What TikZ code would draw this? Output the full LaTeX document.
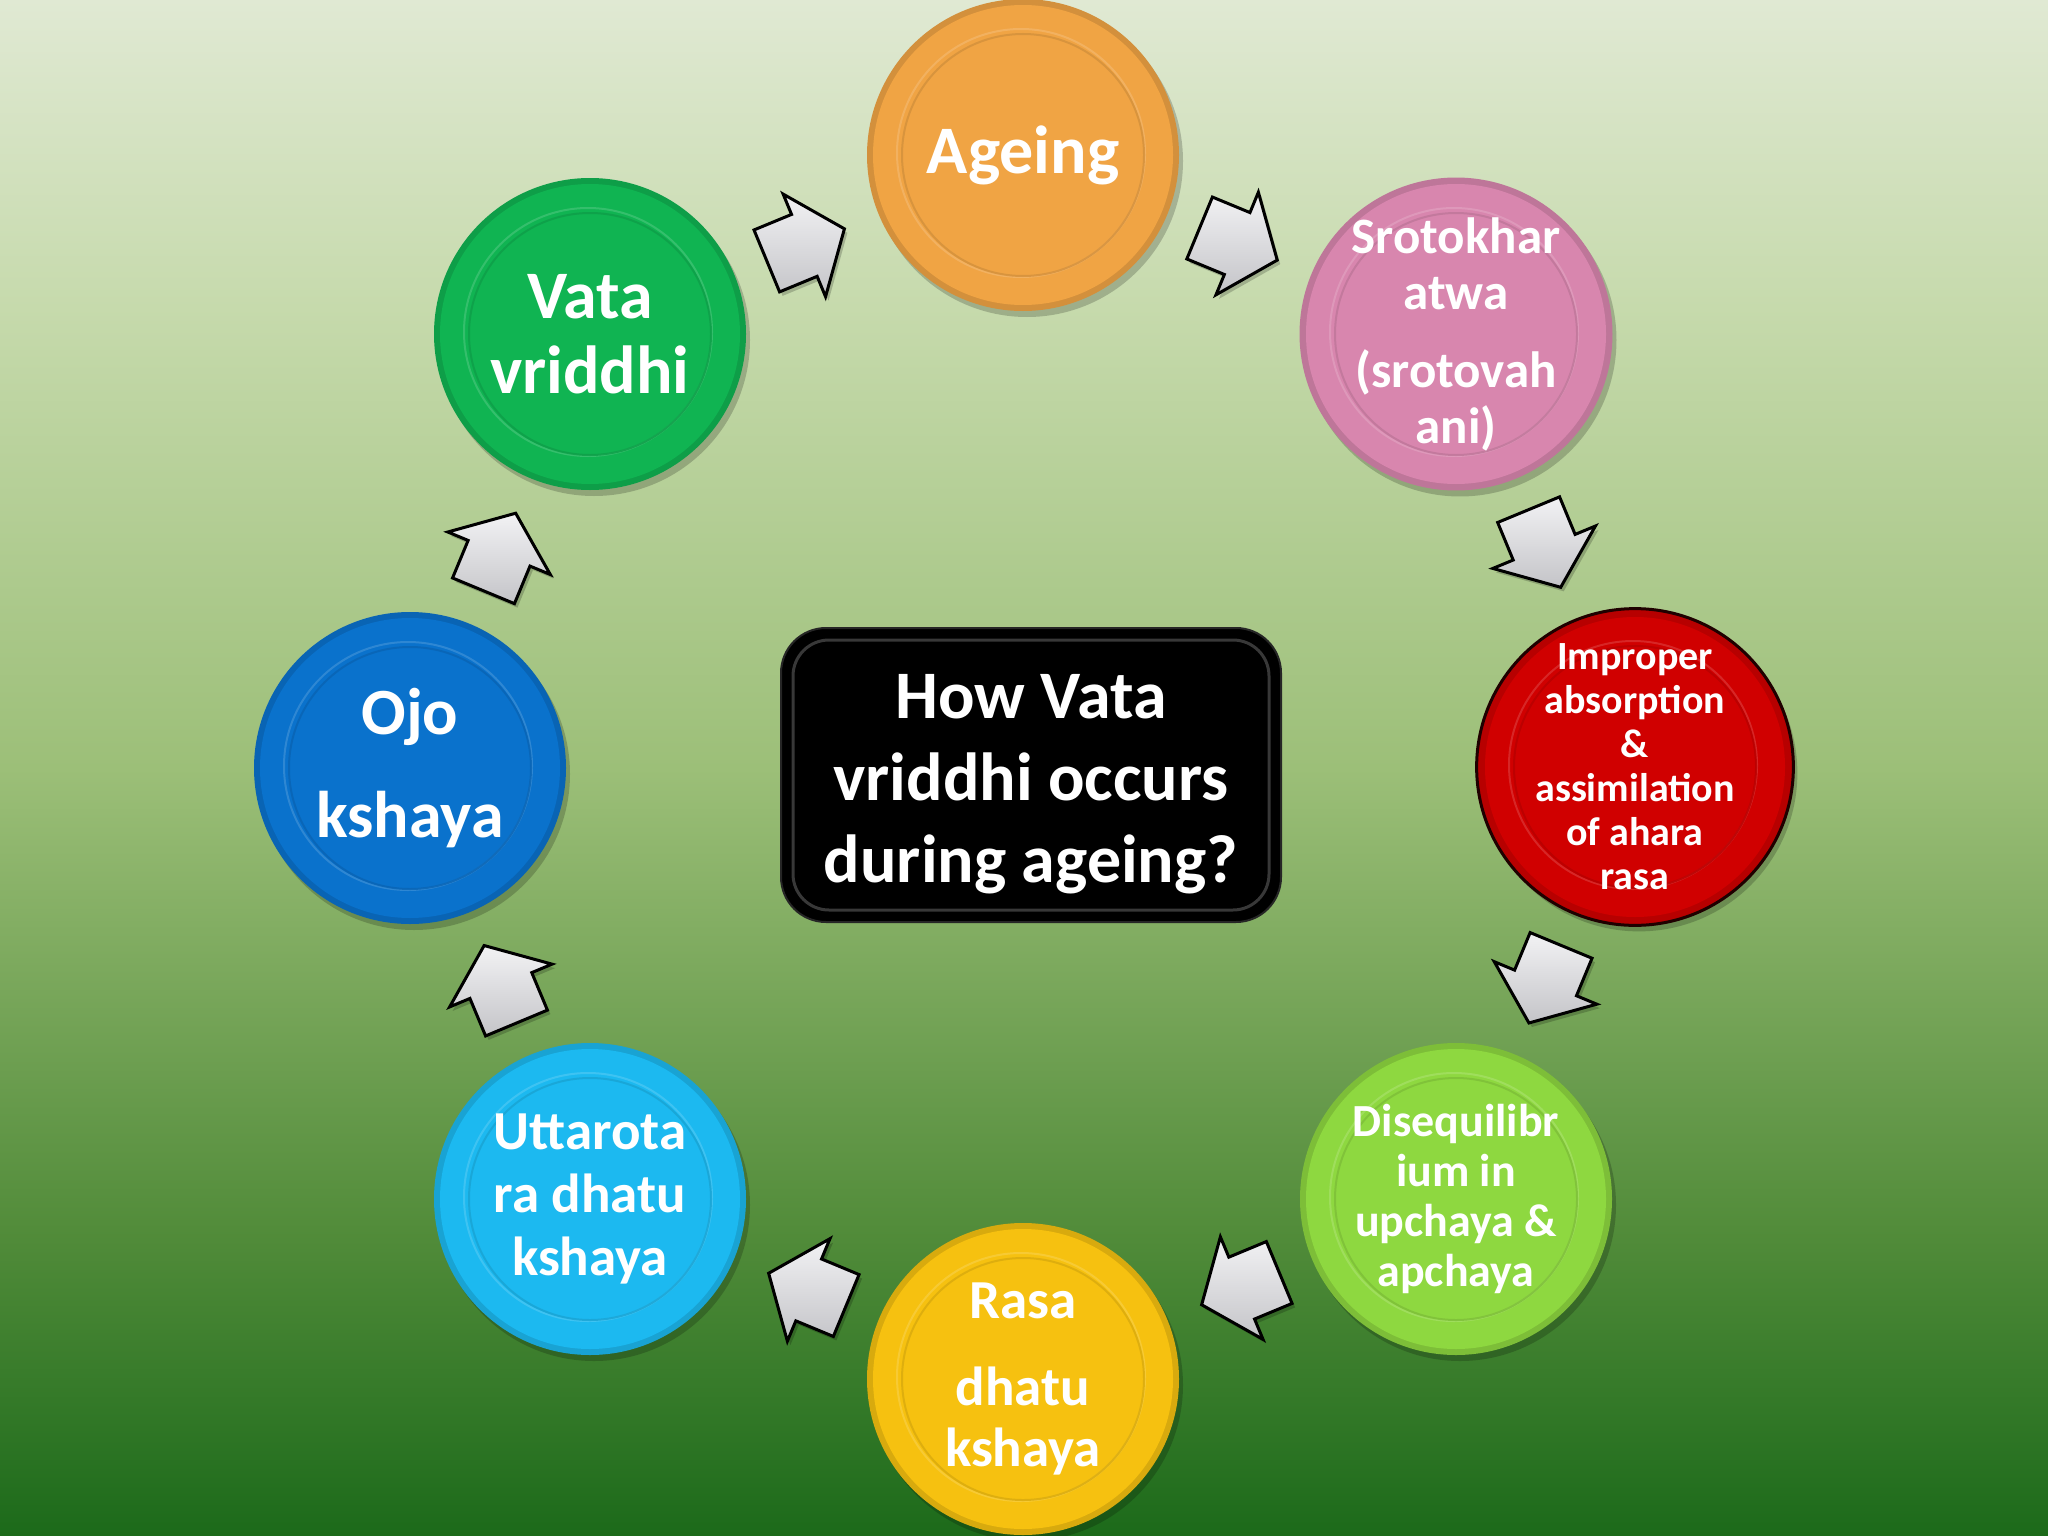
\documentclass[tikz,border=0pt]{standalone}
\usepackage{fontspec}
\setmainfont{Carlito}
\usetikzlibrary{shapes.arrows,calc}
\definecolor{bgA}{HTML}{1C6A1A}
\definecolor{bgB}{HTML}{528C3A}
\definecolor{bgC}{HTML}{9CBF78}
\definecolor{bgD}{HTML}{C6DAAC}
\definecolor{bgE}{HTML}{E0E9D3}
\definecolor{cAge}{HTML}{F0A444}
\definecolor{cSro}{HTML}{D886AE}
\definecolor{cImp}{HTML}{D00000}
\definecolor{cDis}{HTML}{8ED840}
\definecolor{cRas}{HTML}{F6C110}
\definecolor{cUtt}{HTML}{1CB9F0}
\definecolor{cOjo}{HTML}{0A72CC}
\definecolor{cVat}{HTML}{10B452}
\definecolor{arrTop}{HTML}{F2F2F4}
\definecolor{arrBot}{HTML}{C4C4C8}
\pgfdeclareverticalshading{bgshade}{100bp}{color(0bp)=(bgA); color(25bp)=(bgA); color(35bp)=(bgB); color(50bp)=(bgC); color(65bp)=(bgD); color(75bp)=(bgE); color(100bp)=(bgE)}
\tikzset{
  disc/.style={circle, minimum size=312pt, inner sep=0pt, text=white, align=center,
    fill=#1!88!black,
    preaction={fill=black, opacity=0.2, transform canvas={shift={(4pt,-6pt)}}},
    path picture={
      \fill[#1] (path picture bounding box.center) circle (150pt);
      \draw[#1!70!white, line width=2pt, opacity=0.5] ($(path picture bounding box.center)+(-2pt,2pt)$) circle (124pt);
      \draw[#1!88!black, line width=2pt, opacity=0.8] (path picture bounding box.center) circle (121pt);
    }},
  blockarrow/.style={single arrow, draw=black, line width=3pt, inner sep=0pt,
    minimum height=84pt, single arrow head extend=22pt,
    single arrow tip angle=104, top color=arrTop, bottom color=arrBot,
    pos=0.41, sloped, allow upside down,
    preaction={fill=black, opacity=0.2, transform canvas={shift={(3pt,-4pt)}}}},
  qbox/.style={rectangle, rounded corners=45pt, minimum width=500pt, minimum height=294pt,
    fill=black, draw=black!85!white, line width=2pt, text=white, align=center,
    font=\bfseries\fontsize{68}{82}\selectfont,
    path picture={
      \draw[white!22!black, line width=3pt, rounded corners=36pt]
        ($(path picture bounding box.south west)+(12pt,12pt)$) rectangle
        ($(path picture bounding box.north east)+(-12pt,-12pt)$);
    }}
}
\newcommand{\armbody}{\rule{0pt}{64pt}}
\begin{document}
\begin{tikzpicture}[x=1pt,y=-1pt]
\useasboundingbox (0,0) rectangle (2048,1536);
\fill[shading=bgshade] (0,0) rectangle (2048,1536);

\node[qbox] (q) at (1031,775) {\rule{0pt}{62pt}How Vata\\vriddhi occurs\\during ageing?};

\node[disc=cAge, font=\bfseries\fontsize{68}{75}\selectfont] (age) at (1023,155)
  {Ageing};
\node[disc=cSro, font=\bfseries\fontsize{51}{56}\selectfont] (sro) at (1456,334)
  {Srotokhar\\atwa\\[22pt](srotovah\\ani)};
\node[disc=cImp, draw=black!85!cImp, line width=3pt, font=\bfseries\fontsize{40}{44}\selectfont] (imp) at (1635,767)
  {Improper\\absorption\\\&\\assimilation\\of ahara\\rasa};
\node[disc=cDis, font=\bfseries\fontsize{46}{50}\selectfont] (dis) at (1456,1199)
  {Disequilibr\\ium in\\upchaya \&\\apchaya};
\node[disc=cRas, font=\bfseries\fontsize{55}{61}\selectfont] (ras) at (1023,1379)
  {Rasa\\[26pt]dhatu\\kshaya};
\node[disc=cUtt, font=\bfseries\fontsize{55}{63}\selectfont] (utt) at (590,1199)
  {Uttarota\\ra dhatu\\kshaya};
\node[disc=cOjo, font=\bfseries\fontsize{66}{103}\selectfont] (ojo) at (410,768)
  {Ojo\\kshaya};
\node[disc=cVat, font=\bfseries\fontsize{68}{75}\selectfont] (vat) at (590,334)
  {Vata\\vriddhi};

\path (age) -- node[blockarrow] (a1) {\armbody} (sro);
\path (sro) -- node[blockarrow] (a2) {\armbody} (imp);
\path (imp) -- node[blockarrow] (a3) {\armbody} (dis);
\path (dis) -- node[blockarrow] (a4) {\armbody} (ras);
\path (ras) -- node[blockarrow] (a5) {\armbody} (utt);
\path (utt) -- node[blockarrow] (a6) {\armbody} (ojo);
\path (ojo) -- node[blockarrow] (a7) {\armbody} (vat);
\path (vat) -- node[blockarrow] (a8) {\armbody} (age);
\end{tikzpicture}
\end{document}
